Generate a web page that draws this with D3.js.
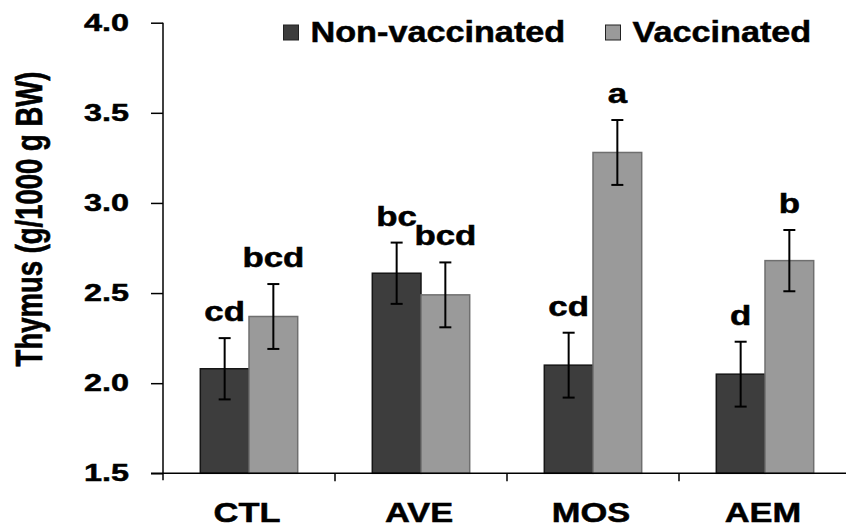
<!DOCTYPE html>
<html>
<head>
<meta charset="utf-8">
<script src="https://cdn.jsdelivr.net/npm/d3@7"></script>
<style>
  body { margin: 0; background: #fff; }
  text { font-family: "Liberation Sans", Arial, sans-serif; font-weight: bold; fill: #000; stroke: #000; stroke-width: 0.5px; }
</style>
</head>
<body>
<div id="chart"></div>
<script>
// Chart values;
var categories = ["CTL", "AVE", "MOS", "AEM"]
var series = ["Non-vaccinated", "Vaccinated"]
var nonVaccinated = [2.08, 2.61, 2.10, 2.05]
var vaccinated = [2.37, 2.49, 3.28, 2.68]
var nonVaccinatedErr = [0.17, 0.17, 0.18, 0.18]
var vaccinatedErr = [0.18, 0.18, 0.18, 0.17]
var nonVaccinatedLetters = ["cd", "bc", "cd", "d"]
var vaccinatedLetters = ["bcd", "bcd", "a", "b"]
var yTicks = [1.5, 2.0, 2.5, 3.0, 3.5, 4.0]

// Layout;
const width = 846
const height = 527
const plotLeft = 163, plotRight = 851, plotTop = 22.7, plotBottom = 473.3
const colors = ["#3d3d3d", "#9a9a9a"]
const strokes = ["#161616", "#6f6f6f"]

const svg = d3.select("#chart").append("svg")
    .attr("width", width)
    .attr("height", height)

const x = d3.scaleBand().domain(categories).range([plotLeft, plotRight]).padding(0)
const xInner = d3.scaleBand().domain(series).range([0, x.bandwidth()]).paddingInner(0).paddingOuter(0.766)
const y = d3.scaleLinear().domain([1.5, 4.0]).range([plotBottom, plotTop])

// One row per bar;
var rows = []
categories.forEach((c, i) => {
    rows.push({cat: c, s: series[0], v: nonVaccinated[i], e: nonVaccinatedErr[i], l: nonVaccinatedLetters[i], k: 0})
    rows.push({cat: c, s: series[1], v: vaccinated[i], e: vaccinatedErr[i], l: vaccinatedLetters[i], k: 1})
})
const cx = d => x(d.cat) + xInner(d.s) + xInner.bandwidth() / 2

// Bars;
svg.append("g").selectAll("rect")
    .data(rows)
    .join("rect")
    .attr("x", d => x(d.cat) + xInner(d.s))
    .attr("y", d => y(d.v))
    .attr("width", xInner.bandwidth())
    .attr("height", d => y(1.5) - y(d.v))
    .attr("fill", d => colors[d.k])
    .attr("stroke", d => strokes[d.k])
    .attr("stroke-width", 1.5)

// Error bars;
const err = svg.append("g").attr("stroke", "#000").attr("stroke-width", 2)
err.selectAll("line.v").data(rows).join("line").attr("class", "v")
    .attr("x1", cx).attr("x2", cx)
    .attr("y1", d => y(d.v + d.e)).attr("y2", d => y(d.v - d.e))
err.selectAll("line.t").data(rows).join("line").attr("class", "t")
    .attr("x1", d => cx(d) - 6).attr("x2", d => cx(d) + 6)
    .attr("y1", d => y(d.v + d.e)).attr("y2", d => y(d.v + d.e))
err.selectAll("line.b").data(rows).join("line").attr("class", "b")
    .attr("x1", d => cx(d) - 6).attr("x2", d => cx(d) + 6)
    .attr("y1", d => y(d.v - d.e)).attr("y2", d => y(d.v - d.e))

// Significance letters;
svg.append("g").selectAll("text")
    .data(rows)
    .join("text")
    .attr("text-anchor", "middle")
    .attr("font-size", 27)
    .attr("transform", d => `translate(${cx(d)},${y(d.v + d.e) - 17}) scale(1.29,1)`)
    .text(d => d.l)

// Y axis;
const yAxis = svg.append("g")
    .attr("transform", `translate(${plotLeft},0)`)
    .call(d3.axisLeft(y).tickValues(yTicks).tickFormat(d3.format(".1f")).tickSize(12).tickSizeOuter(0))
yAxis.select(".domain").remove()
yAxis.selectAll(".tick line").attr("stroke", "#000").attr("stroke-width", 1.5)
yAxis.selectAll(".tick text")
    .attr("x", 0)
    .attr("font-size", 24)
    .attr("font-family", "Liberation Sans, Arial, sans-serif")
    .attr("font-weight", "bold")
    .attr("transform", "translate(-34,0) scale(1.35,1)")
svg.append("line")
    .attr("x1", plotLeft).attr("x2", plotLeft)
    .attr("y1", y(4.0)).attr("y2", plotBottom + 7)
    .attr("stroke", "#000").attr("stroke-width", 1.5)

// X axis;
svg.append("line")
    .attr("x1", plotLeft - 12).attr("x2", width)
    .attr("y1", plotBottom).attr("y2", plotBottom)
    .attr("stroke", "#000").attr("stroke-width", 1.5)
svg.append("g").selectAll("line")
    .data(categories.slice(1))
    .join("line")
    .attr("x1", d => x(d)).attr("x2", d => x(d))
    .attr("y1", plotBottom).attr("y2", plotBottom + 8)
    .attr("stroke", "#000").attr("stroke-width", 1.5)
svg.append("g").selectAll("text")
    .data(categories)
    .join("text")
    .attr("text-anchor", "middle")
    .attr("font-size", 28)
    .attr("transform", d => `translate(${x(d) + x.bandwidth() / 2 - 2},522) scale(1.23,1)`)
    .text(d => d)

// Y axis title;
svg.append("text")
    .attr("text-anchor", "middle")
    .attr("font-size", 27.5)
    .attr("transform", "translate(42,219) rotate(-90) scale(1,1.35)")
    .text("Thymus (g/1000 g BW)")

// Legend;
const legendX = [283.5, 605.5]
const legend = svg.append("g").selectAll("g")
    .data(series)
    .join("g")
    .attr("transform", (d, i) => `translate(${legendX[i]},0)`)
legend.append("rect")
    .attr("x", 0).attr("y", 25)
    .attr("width", 15).attr("height", 15)
    .attr("fill", (d, i) => colors[i])
    .attr("stroke", "#222")
    .attr("stroke-width", 1)
legend.append("text")
    .attr("font-size", 29)
    .attr("transform", "translate(27,41.8) scale(1.18,1)")
    .text(d => d)
</script>
</body>
</html>
